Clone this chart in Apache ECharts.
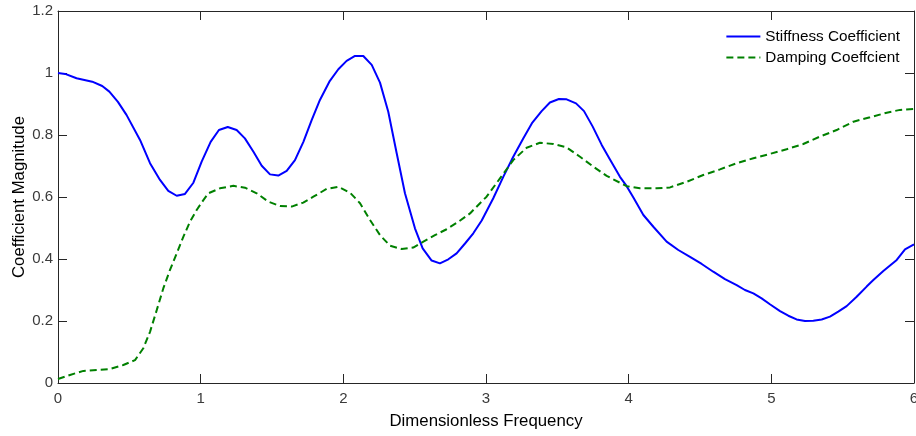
<!DOCTYPE html>
<html><head><meta charset="utf-8">
<script src="https://cdn.jsdelivr.net/npm/echarts@6/dist/echarts.min.js"></script>
<style>html,body{margin:0;padding:0;background:#fff}#c{width:916px;height:436px}</style>
</head><body><div id="c"></div>
<script>
const stiffX = [0,0.05,0.13,0.24,0.31,0.36,0.42,0.48,0.575,0.645,0.715,0.773,0.832,0.89,0.949,1.007,1.07,1.128,1.19,1.252,1.31,1.37,1.428,1.486,1.544,1.603,1.661,1.72,1.778,1.836,1.902,1.965,2.023,2.082,2.14,2.199,2.257,2.315,2.374,2.432,2.502,2.556,2.619,2.677,2.736,2.794,2.853,2.911,2.97,3.051,3.121,3.191,3.261,3.325,3.39,3.448,3.511,3.565,3.631,3.687,3.748,3.811,3.869,3.939,3.986,4.033,4.103,4.173,4.266,4.348,4.43,4.512,4.593,4.675,4.757,4.815,4.874,4.932,4.99,5.061,5.119,5.177,5.236,5.294,5.353,5.411,5.469,5.528,5.598,5.668,5.715,5.785,5.879,5.937,6.0];
const stiffY = [1.0,0.997,0.983,0.972,0.958,0.94,0.907,0.865,0.784,0.709,0.655,0.62,0.604,0.61,0.646,0.714,0.778,0.816,0.826,0.816,0.789,0.746,0.701,0.673,0.669,0.684,0.719,0.778,0.848,0.913,0.972,1.012,1.039,1.055,1.055,1.026,0.969,0.875,0.741,0.612,0.499,0.434,0.395,0.386,0.399,0.418,0.45,0.483,0.524,0.596,0.665,0.73,0.789,0.84,0.877,0.905,0.916,0.915,0.902,0.877,0.827,0.768,0.721,0.665,0.635,0.598,0.542,0.504,0.456,0.429,0.407,0.384,0.359,0.335,0.316,0.3,0.289,0.273,0.254,0.232,0.217,0.205,0.2,0.201,0.205,0.214,0.23,0.248,0.278,0.311,0.332,0.361,0.397,0.431,0.447];
const dampX = [0,0.084,0.178,0.271,0.364,0.458,0.54,0.598,0.645,0.692,0.738,0.785,0.832,0.879,0.925,0.972,1.019,1.054,1.135,1.229,1.311,1.393,1.474,1.556,1.638,1.719,1.79,1.883,1.965,2.047,2.117,2.187,2.257,2.327,2.409,2.49,2.561,2.642,2.724,2.806,2.888,2.958,3.004,3.098,3.191,3.285,3.378,3.472,3.565,3.659,3.752,3.846,3.939,3.986,4.079,4.196,4.29,4.406,4.523,4.64,4.757,4.874,4.99,5.107,5.224,5.341,5.458,5.575,5.692,5.809,5.902,6.0];
const dampY = [0.013,0.026,0.039,0.042,0.045,0.058,0.074,0.112,0.165,0.235,0.305,0.365,0.418,0.472,0.52,0.558,0.59,0.612,0.628,0.636,0.63,0.612,0.585,0.571,0.569,0.582,0.601,0.626,0.633,0.614,0.58,0.526,0.477,0.443,0.432,0.437,0.456,0.477,0.496,0.52,0.547,0.58,0.601,0.66,0.719,0.759,0.775,0.771,0.76,0.73,0.698,0.668,0.646,0.635,0.628,0.628,0.631,0.649,0.671,0.689,0.709,0.725,0.739,0.754,0.771,0.795,0.816,0.843,0.857,0.872,0.881,0.884];
const xTicks = [0,1,2,3,4,5,6];
const yTicks = [0,0.2,0.4,0.6,0.8,1,1.2];
const seriesNames = ['Stiffness Coefficient','Damping Coeffcient'];

const zip = (xs, ys) => xs.map((x, i) => [x, ys[i]]);
const font = 'Liberation Sans, Arial, Helvetica, sans-serif';
const axisCol = '#262626';
const labelCol = '#3a3a3a';
const chart = echarts.init(document.getElementById('c'), null, {renderer: 'canvas'});
const baseX = {
  type: 'value', min: xTicks[0], max: xTicks[xTicks.length-1], interval: 1,
  axisLine: {show: true, onZero: false, lineStyle: {color: axisCol, width: 1}},
  axisTick: {show: true, inside: true, length: 9, lineStyle: {color: axisCol}},
  splitLine: {show: false}
};
const baseY = {
  type: 'value', min: yTicks[0], max: yTicks[yTicks.length-1], interval: 0.2,
  axisLine: {show: true, onZero: false, lineStyle: {color: axisCol, width: 1}},
  axisTick: {show: true, inside: true, length: 9, lineStyle: {color: axisCol}},
  splitLine: {show: false}
};
chart.setOption({
  animation: false,
  backgroundColor: '#fff',
  grid: {left: 58, right: 2, top: 11, bottom: 53, containLabel: false, outerBoundsMode: 'none'},
  legend: {
    orient: 'vertical', right: 11, top: 24, itemWidth: 34, itemHeight: 14, itemGap: 6,
    itemStyle: {opacity: 0},
    textStyle: {fontFamily: font, fontSize: 15.3, color: '#000'},
    data: seriesNames
  },
  xAxis: [
    Object.assign({}, baseX, {
      position: 'bottom',
      name: 'Dimensionless Frequency', nameLocation: 'middle', nameGap: 30, nameMoveOverlap: false,
      nameTextStyle: {fontFamily: font, fontSize: 16.8, color: '#000'},
      axisLabel: {fontFamily: font, fontSize: 15, color: labelCol, margin: 8}
    }),
    Object.assign({}, baseX, {position: 'top', axisLabel: {show: false}})
  ],
  yAxis: [
    Object.assign({}, baseY, {
      position: 'left',
      name: 'Coefficient Magnitude', nameLocation: 'middle', nameGap: 30, nameMoveOverlap: false,
      nameTextStyle: {fontFamily: font, fontSize: 16.8, color: '#000'},
      axisLabel: {fontFamily: font, fontSize: 15, color: labelCol, margin: 5}
    }),
    Object.assign({}, baseY, {position: 'right', axisLabel: {show: false}})
  ],
  series: [
    {name: seriesNames[0], type: 'line', data: zip(stiffX, stiffY), showSymbol: false, symbol: 'none',
     lineStyle: {color: '#0000ff', width: 2}, itemStyle: {color: '#0000ff'}},
    {name: seriesNames[1], type: 'line', data: zip(dampX, dampY), showSymbol: false, symbol: 'none',
     lineStyle: {color: '#008000', width: 2, type: [7, 4]}, itemStyle: {color: '#008000'}}
  ]
});
</script></body></html>
